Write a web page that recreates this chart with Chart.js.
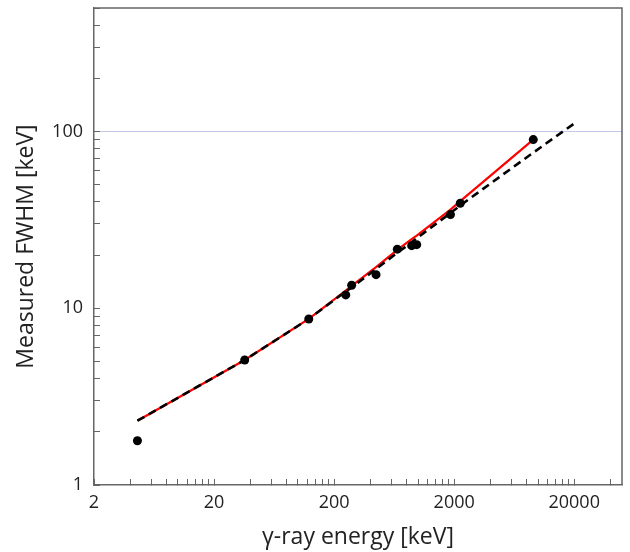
<!DOCTYPE html>
<html>
<head>
<meta charset="utf-8">
<script src="https://cdn.jsdelivr.net/npm/chart.js"></script>
<style>
  body { margin: 0; background: #fff; }
</style>
</head>
<body>
<canvas id="fwhmChart" width="630" height="552"></canvas>
<script>
// measured peaks
const energies = [4.6, 36, 123, 250, 280, 447, 672, 885, 975, 1864, 2249, 9120];
const measuredFwhm = [1.78, 5.1, 8.7, 11.9, 13.5, 15.5, 21.6, 22.6, 22.9, 33.9, 39.3, 90];

// red fit line
const redFitEnergies = [4.6, 36, 123, 250, 280, 447, 672, 885, 975, 1864, 2249, 9120];
const redFitFwhm = [2.31, 5.1, 8.7, 12.6, 13.4, 17.1, 21.4, 24.6, 25.8, 36.2, 40.4, 90];

// black dashed fit line
const dashedFitEnergies = [4.6, 36, 123, 250, 280, 447, 672, 885, 975, 1864, 2249, 9120, 20000];
const dashedFitFwhm = [2.31, 5.1, 8.7, 12.45, 13.1, 16.7, 20.6, 23.6, 24.9, 34.6, 38.2, 76, 111];

const xTickLabels = [2, 20, 200, 2000, 20000];
const yTickLabels = [1, 10, 100];

const X_MIN = 2, X_MAX = 50000;
const Y_MIN = 1, Y_MAX = 500;

function toPoints(xs, ys) {
  return xs.map((x, i) => ({ x: x, y: ys[i] }));
}

function decadeTicks(starts, max) {
  const ticks = [];
  starts.forEach(d => {
    for (let m = 1; m <= 9; m++) {
      const v = d * m;
      if (v <= max) ticks.push({ value: v });
    }
  });
  return ticks;
}

// no label padding, so the plot area keeps its set size
function noLabelPadding(scale) {
  scale.paddingTop = 0;
  scale.paddingBottom = 0;
  scale.paddingLeft = 0;
  scale.paddingRight = 0;
}

const plotFrame = {
  id: "plotFrame",
  afterDatasetsDraw(chart) {
    const { ctx, chartArea: a } = chart;
    ctx.save();
    ctx.strokeStyle = "#666";
    ctx.lineWidth = 1.5;
    ctx.beginPath();
    ctx.moveTo(a.left, a.top);
    ctx.lineTo(a.right, a.top);
    ctx.lineTo(a.right, a.bottom);
    ctx.stroke();
    ctx.restore();
  }
};

const labelFont = { family: "'Open Sans', sans-serif", size: 18 };
const titleFont = { family: "'Open Sans', sans-serif", size: 23 };

new Chart(document.getElementById("fwhmChart"), {
  type: "scatter",
  data: {
    datasets: [
      {
        label: "Measured",
        data: toPoints(energies, measuredFwhm),
        backgroundColor: "#000",
        borderWidth: 0,
        pointRadius: 4.5
      },
      {
        label: "Fit (dashed)",
        data: toPoints(dashedFitEnergies, dashedFitFwhm),
        showLine: true,
        borderColor: "#000",
        borderWidth: 2.6,
        borderDash: [8, 5],
        pointRadius: 0,
        fill: false
      },
      {
        label: "Fit",
        data: toPoints(redFitEnergies, redFitFwhm),
        showLine: true,
        borderColor: "#ff0000",
        borderWidth: 2.2,
        pointRadius: 0,
        fill: false
      }
    ]
  },
  options: {
    responsive: false,
    animation: false,
    layout: { padding: { left: 0, right: 8, top: 8, bottom: 0 } },
    plugins: {
      legend: { display: false },
      tooltip: { enabled: false }
    },
    scales: {
      x: {
        type: "logarithmic",
        min: X_MIN,
        max: X_MAX,
        afterBuildTicks(scale) {
          scale.ticks = decadeTicks(xTickLabels, X_MAX);
        },
        afterFit(scale) {
          scale.height = 67;
          noLabelPadding(scale);
        },
        ticks: {
          autoSkip: false,
          maxRotation: 0,
          padding: 13,
          color: "#222",
          font: labelFont,
          callback: v => (xTickLabels.includes(v) ? String(v) : "")
        },
        grid: {
          drawOnChartArea: false,
          tickLength: -6,
          tickColor: "#666",
          tickWidth: 1
        },
        border: { color: "#666", width: 1.5 },
        title: {
          display: true,
          text: "γ-ray energy [keV]",
          color: "#222",
          font: titleFont,
          padding: { top: 0, bottom: 1 }
        }
      },
      y: {
        type: "logarithmic",
        min: Y_MIN,
        max: Y_MAX,
        afterBuildTicks(scale) {
          scale.ticks = decadeTicks(yTickLabels, Y_MAX);
        },
        afterFit(scale) {
          scale.width = 94;
          noLabelPadding(scale);
        },
        ticks: {
          autoSkip: false,
          padding: 17,
          color: "#222",
          font: labelFont,
          callback: v => (yTickLabels.includes(v) ? String(v) : "")
        },
        grid: {
          color: ctx => (ctx.tick && ctx.tick.value === 100 ? "#c4c6ea" : "rgba(0,0,0,0)"),
          lineWidth: 1,
          tickLength: -6,
          tickColor: "#666",
          tickWidth: 1
        },
        border: { color: "#666", width: 1.5 },
        title: {
          display: true,
          text: "Measured FWHM [keV]",
          color: "#222",
          font: titleFont,
          padding: { top: 13, bottom: 0 }
        }
      }
    }
  },
  plugins: [plotFrame]
});
</script>
</body>
</html>
